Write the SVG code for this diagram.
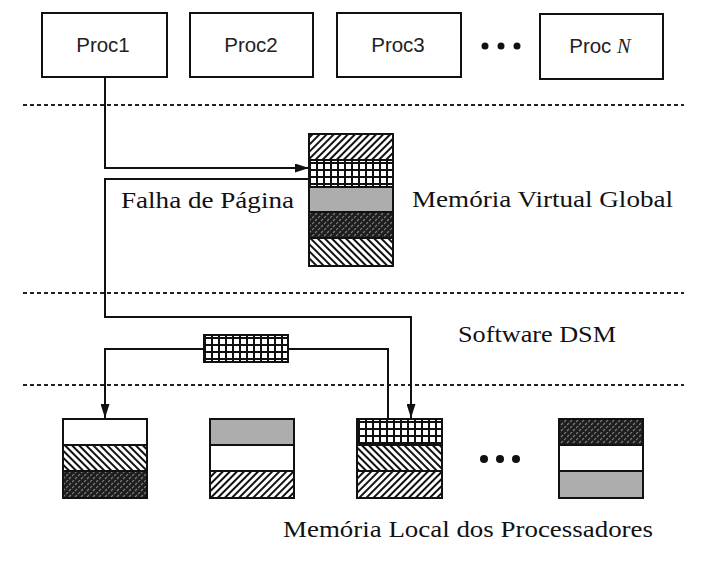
<svg xmlns="http://www.w3.org/2000/svg" width="701" height="562" viewBox="0 0 701 562">
<style>
.box{fill:#fff;stroke:#111;stroke-width:2}
.band{stroke:#111;stroke-width:2}
.sans{font-family:"Liberation Sans",Arial,sans-serif;font-size:20.5px;fill:#222}
.serif{font-family:"Liberation Serif","Times New Roman",serif;font-size:24px;fill:#111}
.conn{fill:none;stroke:#111;stroke-width:2}
.dash{fill:none;stroke:#222;stroke-width:2;stroke-dasharray:4 3}
.dot{fill:#111}
</style>
<defs>
<pattern id="hatchF" width="5" height="5" patternUnits="userSpaceOnUse" patternTransform="rotate(45)">
<rect width="5" height="5" fill="#fff"/>
<rect width="2" height="5" fill="#111"/>
</pattern>
<pattern id="hatchB" width="5" height="5" patternUnits="userSpaceOnUse" patternTransform="rotate(-45)">
<rect width="5" height="5" fill="#fff"/>
<rect width="2" height="5" fill="#111"/>
</pattern>
<pattern id="grid" width="7" height="7" patternUnits="userSpaceOnUse" x="1" y="1">
<rect width="7" height="7" fill="#fff"/>
<rect width="2" height="7" fill="#111"/>
<rect width="7" height="2" fill="#111"/>
</pattern>
<pattern id="dark" width="6" height="6" patternUnits="userSpaceOnUse">
<rect width="6" height="6" fill="#1e1e1e"/>
<path d="M0 2 L2 0 M3 5 L5 3" stroke="#7a7a7a" stroke-width="1.2"/>
</pattern>
<marker id="arr" viewBox="0 0 14 9" refX="14" refY="4.5" markerWidth="14" markerHeight="9" markerUnits="userSpaceOnUse" orient="auto">
<path d="M0 0 L14 4.5 L0 9 Z" fill="#111"/>
</marker>
</defs>

<g id="separators">
<line class="dash" x1="23" y1="105" x2="684" y2="105"/>
<line class="dash" x1="23" y1="293" x2="684" y2="293"/>
<line class="dash" x1="23" y1="385" x2="684" y2="385"/>
</g>

<g id="proc1"><rect class="box" x="42" y="13" width="125" height="64"/><text class="sans" x="103" y="52" text-anchor="middle">Proc1</text></g>
<g id="proc2"><rect class="box" x="190" y="13" width="123" height="64"/><text class="sans" x="251" y="52" text-anchor="middle">Proc2</text></g>
<g id="proc3"><rect class="box" x="337" y="13" width="124" height="64"/><text class="sans" x="398" y="52" text-anchor="middle">Proc3</text></g>
<g id="procDots"><circle class="dot" cx="485" cy="46" r="3.5"/><circle class="dot" cx="501" cy="46" r="3.5"/><circle class="dot" cx="517" cy="46" r="3.5"/></g>
<g id="procN"><rect class="box" x="540" y="14" width="123" height="65"/><text class="sans" x="600" y="53" text-anchor="middle">Proc <tspan font-family="Liberation Serif,serif" font-style="italic">N</tspan></text></g>

<g id="globalMemory">
<rect class="band" x="309" y="134" width="84" height="26" fill="url(#hatchF)"/>
<rect class="band" x="309" y="160" width="84" height="27" fill="url(#grid)"/>
<rect class="band" x="309" y="187" width="84" height="25" fill="#adadad"/>
<rect class="band" x="309" y="212" width="84" height="26" fill="url(#dark)"/>
<rect class="band" x="309" y="238" width="84" height="28" fill="url(#hatchB)"/>
</g>

<g id="pageBlock">
<rect class="band" x="204" y="335" width="84" height="27" fill="url(#grid)"/>
</g>

<g id="local1">
<rect class="band" x="63" y="419" width="84" height="26" fill="#fff"/>
<rect class="band" x="63" y="445" width="84" height="26" fill="url(#hatchB)"/>
<rect class="band" x="63" y="471" width="84" height="27" fill="url(#dark)"/>
</g>
<g id="local2">
<rect class="band" x="210" y="419" width="84" height="26" fill="#adadad"/>
<rect class="band" x="210" y="445" width="84" height="26" fill="#fff"/>
<rect class="band" x="210" y="471" width="84" height="27" fill="url(#hatchF)"/>
</g>
<g id="local3">
<rect class="band" x="357" y="419" width="85" height="26" fill="url(#grid)"/>
<rect class="band" x="357" y="445" width="85" height="26" fill="url(#hatchB)"/>
<rect class="band" x="357" y="471" width="85" height="27" fill="url(#hatchF)"/>
</g>
<g id="localDots"><circle class="dot" cx="484" cy="459" r="4"/><circle class="dot" cx="500" cy="459" r="4"/><circle class="dot" cx="516" cy="459" r="4"/></g>
<g id="localN">
<rect class="band" x="559" y="419" width="84" height="26" fill="url(#dark)"/>
<rect class="band" x="559" y="445" width="84" height="26" fill="#fff"/>
<rect class="band" x="559" y="471" width="84" height="27" fill="#adadad"/>
</g>

<g id="connectors">
<path class="conn" d="M105 77 V168 H309" marker-end="url(#arr)"/>
<path class="conn" d="M309 179 H105 V317 H411 V418" marker-end="url(#arr)"/>
<path class="conn" d="M204 349 H105 V418" marker-end="url(#arr)"/>
<path class="conn" d="M288 349 H388 V420"/>
</g>

<g id="labels">
<text class="serif" x="121" y="208" textLength="173" lengthAdjust="spacingAndGlyphs">Falha de Página</text>
<text class="serif" x="412" y="207" textLength="261" lengthAdjust="spacingAndGlyphs">Memória Virtual Global</text>
<text class="serif" x="458" y="342" textLength="158" lengthAdjust="spacingAndGlyphs">Software DSM</text>
<text class="serif" x="283" y="537" textLength="370" lengthAdjust="spacingAndGlyphs">Memória Local dos Processadores</text>
</g>
</svg>
